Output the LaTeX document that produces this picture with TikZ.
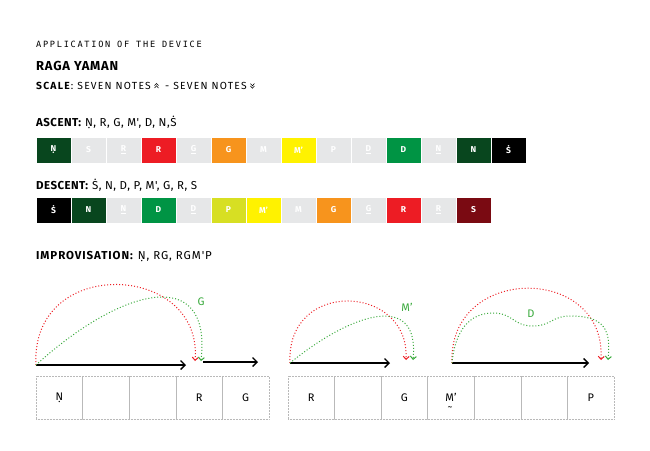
\documentclass[tikz,border=0pt]{standalone}
\usepackage{fontspec}
\setmainfont{Fira Sans}
\newfontfamily\monof[LetterSpace=20]{DejaVu Sans Mono}
\newfontfamily\scalef[LetterSpace=12]{Fira Sans}
\newfontfamily\ragaf[LetterSpace=6]{Fira Sans}
\newfontfamily\ascf[LetterSpace=4]{Fira Sans}
\newfontfamily\imprf[LetterSpace=8]{Fira Sans}
\usetikzlibrary{arrows.meta}
\definecolor{dkgreen}{RGB}{8,70,30}
\definecolor{ngray}{RGB}{230,231,232}
\definecolor{nred}{RGB}{237,28,36}
\definecolor{norange}{RGB}{247,148,29}
\definecolor{nyellow}{RGB}{255,242,0}
\definecolor{ngreen}{RGB}{0,148,68}
\definecolor{nygreen}{RGB}{215,223,35}
\definecolor{dkred}{RGB}{122,10,18}
\definecolor{arcred}{RGB}{238,30,36}
\definecolor{arcgreen}{RGB}{57,170,60}
\definecolor{cellline}{RGB}{185,185,185}
\tikzset{
  notebox/.style={minimum width=35pt, minimum height=26pt, inner sep=0pt, draw=white, line width=0.5pt, text=white, font=\fontsize{8.5}{9}\selectfont\bfseries},
  cellbox/.style={minimum width=46.6pt, minimum height=43pt, inner sep=0pt, draw=cellline, line width=0.5pt, densely dotted},
  celltext/.style={inner sep=0pt, font=\fontsize{11}{12}\selectfont},
  headtxt/.style={anchor=base west, inner sep=0pt},
  timearrow/.style={line width=1.3pt, -{Straight Barb[length=4.5pt,width=9pt,line width=1.3pt]}},
  redarc/.style={arcred, line width=1pt, dotted, -{Straight Barb[length=3pt,width=6pt,line width=1pt]}},
  greenarc/.style={arcgreen, line width=1pt, dotted, -{Straight Barb[length=3pt,width=6pt,line width=1pt]}},
  arclabel/.style={arcgreen, inner sep=0pt, font=\fontsize{11}{12}\selectfont},
  chev/.style={line width=0.55pt}
}
\begin{document}
\begin{tikzpicture}[x=1pt,y=-1pt]
\useasboundingbox[fill=white] (0,0) rectangle (650,450);

% headings
\node[headtxt, font=\monof\fontsize{8.6}{10}\selectfont] (title) at (36,47) {APPLICATION OF THE DEVICE};
\node[headtxt, font=\ragaf\fontsize{13}{15}\selectfont\bfseries] (raga) at (36,70) {RAGA YAMAN};
\node[headtxt, font=\scalef\fontsize{10.3}{11}\selectfont] (sc1) at (36,89) {\textbf{SCALE}: SEVEN NOTES};
\coordinate (ch1) at ([xshift=3.5pt]sc1.base east);
\draw[chev] ([yshift=1pt]ch1) -- ++(2,-2.2) -- ++(2,2.2);
\draw[chev] ([yshift=3.4pt]ch1) -- ++(2,-2.2) -- ++(2,2.2);
\node[headtxt, font=\scalef\fontsize{10.3}{11}\selectfont] (sc2) at ([xshift=14pt]sc1.base east) {- SEVEN NOTES};
\coordinate (ch2) at ([xshift=3.5pt]sc2.base east);
\draw[chev] ([yshift=5.4pt]ch2) -- ++(2,2.2) -- ++(2,-2.2);
\draw[chev] ([yshift=3pt]ch2) -- ++(2,2.2) -- ++(2,-2.2);

\node[headtxt, font=\ascf\fontsize{11.5}{13}\selectfont] (asc) at (36,126) {\textbf{ASCENT:} Ṇ, R, G, M', D, N,Ṡ};
\node[headtxt, font=\ascf\fontsize{11.5}{13}\selectfont] (desc) at (36,189) {\textbf{DESCENT:} Ṡ, N, D, P, M', G, R, S};
\node[headtxt, font=\imprf\fontsize{11.5}{13}\selectfont] (impr) at (36,259) {\textbf{IMPROVISATION:} Ṇ, RG, RGM'P};

% ascent boxes
\foreach \c/\t [count=\i] in {dkgreen/Ṇ, ngray/S, ngray/\underline{R}, nred/R, ngray/\underline{G}, norange/G, ngray/M, nyellow/M', ngray/P, ngray/\underline{D}, ngreen/D, ngray/\underline{N}, dkgreen/N, black/Ṡ}
  \node[notebox, fill=\c] (a\i) at ({36+35*(\i-1)+17.5},150) {\t};

% descent boxes
\foreach \c/\t [count=\i] in {black/Ṡ, dkgreen/N, ngray/\underline{N}, ngreen/D, ngray/\underline{D}, nygreen/P, nyellow/M', ngray/M, norange/G, ngray/\underline{G}, nred/R, ngray/\underline{R}, dkred/S}
  \node[notebox, fill=\c] (d\i) at ({36+35*(\i-1)+17.5},210) {\t};

% bottom cells
\foreach \i in {1,...,5}
  \node[cellbox] (p\i) at ({36+46.6*(\i-1)+23.3},397.5) {};
\foreach \i in {1,...,7}
  \node[cellbox] (q\i) at ({288+46.57*(\i-1)+23.3},397.5) {};
\node[celltext] (lp1) at (p1) {Ṇ};
\node[celltext] (lp4) at (p4) {R};
\node[celltext] (lp5) at (p5) {G};
\node[celltext] (lq1) at (q1) {R};
\node[celltext] (lq3) at (q3) {G};
\node[celltext] (lq4) at (q4) {M'};
\node[inner sep=0pt, font=\fontsize{10}{11}\selectfont] (tl) at (450,409) {\char"7E};
\node[celltext] (lq7) at (q7) {P};

% group 1 arcs
\coordinate (s1) at (36,365);
\coordinate (e1) at (186,365);
\coordinate (s2) at (203,362);
\coordinate (e2) at (258,362);
\coordinate (r1) at (195,361);
\coordinate (g1) at (201,361);
\draw[timearrow] (s1) -- (e1);
\draw[timearrow] (s2) -- (e2);
\draw[redarc] (s1) .. controls (30,255) and (203,262) .. (r1);
\draw[greenarc] (s1) .. controls (118,290) and (212,262) .. (g1);
\node[arclabel] (lg) at (201,302) {G};

% group 2 arcs
\coordinate (s3) at (290,363);
\coordinate (e3) at (390,363);
\coordinate (r2) at (406,360);
\coordinate (g2) at (413,360);
\draw[timearrow] (s3) -- (e3);
\draw[redarc] (s3) .. controls (286,278) and (410,284) .. (r2);
\draw[greenarc] (s3) .. controls (350,314) and (420,290) .. (g2);
\node[arclabel] (lm) at (407,307) {M'};

% group 3 arcs
\coordinate (s4) at (452,363);
\coordinate (e4) at (589,363);
\coordinate (r3) at (601,360);
\coordinate (g3) at (608,360);
\coordinate (w1) at (493,313);
\coordinate (w2) at (533,326);
\coordinate (w3) at (570,316);
\draw[timearrow] (s4) -- (e4);
\draw[redarc] (s4) .. controls (448,264) and (606,264) .. (r3);
\draw[greenarc] (s4) .. controls (455,330) and (470,313) .. (w1)
   .. controls (513,313) and (513,326) .. (w2)
   .. controls (551,326) and (552,316) .. (w3)
   .. controls (605,316) and (611,330) .. (g3);
\node[arclabel] (ld) at (531,314) {D};
\end{tikzpicture}
\end{document}
